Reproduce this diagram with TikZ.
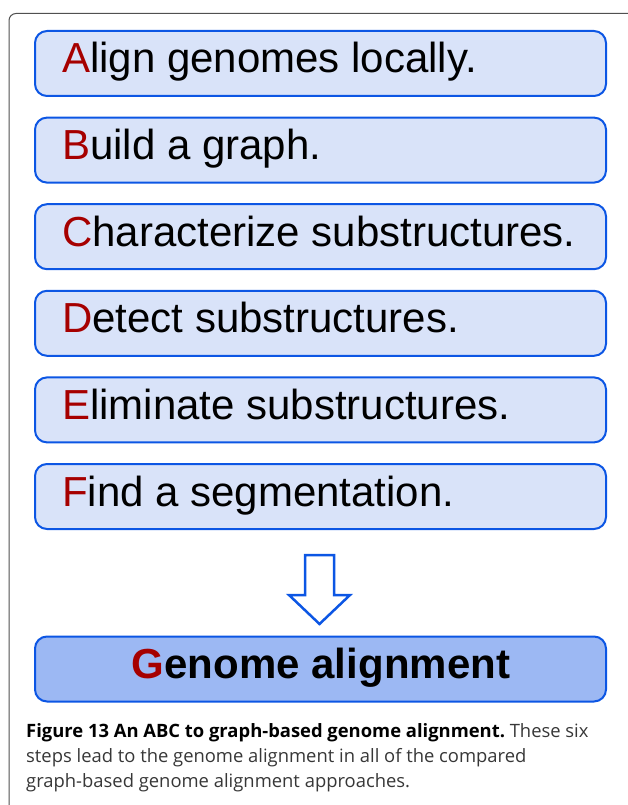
\documentclass[tikz,border=0pt]{standalone}
\usepackage{fontspec}
\setmainfont{Liberation Sans}
\newfontfamily\captionfont{Open Sans}
\definecolor{boxblue}{RGB}{12,86,228}
\definecolor{stepfill}{RGB}{217,227,249}
\definecolor{finalfill}{RGB}{156,184,243}
\definecolor{letterred}{RGB}{166,0,0}
\definecolor{framegray}{RGB}{80,80,80}
\definecolor{captiongray}{RGB}{55,55,55}
\tikzset{
  stepbox/.style={draw=boxblue, line width=2pt, fill=stepfill,
    rounded corners=12pt, minimum width=571pt, minimum height=65pt,
    inner sep=0pt},
  finalbox/.style={stepbox, fill=finalfill},
  steptext/.style={font=\fontsize{42pt}{50pt}\selectfont, inner sep=0pt,
    anchor=base west},
  finaltext/.style={font=\fontsize{42pt}{50pt}\selectfont\bfseries,
    inner sep=0pt, anchor=base},
  captionline/.style={font=\captionfont\fontsize{18.4pt}{25pt}\selectfont\frenchspacing,
    text=captiongray, inner sep=0pt, anchor=base west},
  blockarrow/.style={draw=boxblue, line width=2.5pt, fill=white,
    line join=miter}
}
\begin{document}
\begin{tikzpicture}[x=1pt,y=-1pt]
\useasboundingbox (0,0) rectangle (627,805);
% figure frame, open to the right and bottom
\draw[framegray, line width=1pt, rounded corners=7pt]
  (9,820) -- (9,13.5) -- (650,13.5);
% the six steps
\foreach \L/\rest [count=\n] in {A/lign genomes locally.,
    B/uild a graph.,
    C/haracterize substructures.,
    D/etect substructures.,
    E/liminate substructures.,
    F/ind a segmentation.}{
  \node[stepbox] (s\n) at (320.5,{63.5+86.6*(\n-1)}) {};
  \node[steptext] (t\n) at ([xshift=28pt,yshift=-9.5pt]s\n.west)
    {\textcolor{letterred}{\L}\rest};
}
% block arrow towards the result
\draw[blockarrow] (305,555) -- (334,555) -- (334,595) -- (350,595)
  -- (319.5,624) -- (289,595) -- (305,595) -- cycle;
% result
\node[finalbox] (g) at (320.5,669) {};
\node[finaltext] (gt) at ([xshift=0.5pt,yshift=-9.5pt]g.center)
  {\textcolor{letterred}{G}enome alignment};
% caption
\node[captionline] (c1) at (26,737)
  {\textcolor{black}{\bfseries Figure 13 An ABC to graph-based genome alignment.} These six};
\node[captionline] (c2) at (26,762)
  {steps lead to the genome alignment in all of the compared};
\node[captionline] (c3) at (26,787)
  {graph-based genome alignment approaches.};
\end{tikzpicture}
\end{document}
